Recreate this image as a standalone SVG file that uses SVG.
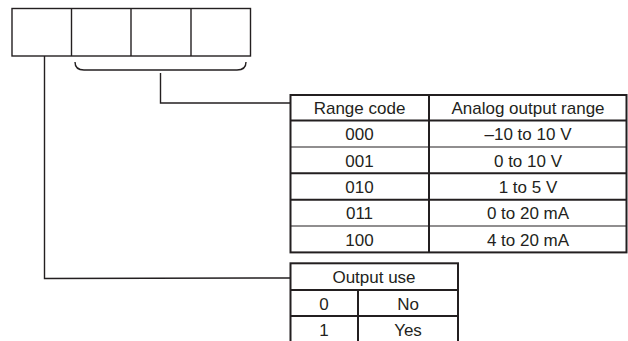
<svg xmlns="http://www.w3.org/2000/svg" width="628" height="341" viewBox="0 0 628 341">
<style>
.ln{fill:none;stroke:#231f20;stroke-width:1.4}
.thk{fill:none;stroke:#231f20;stroke-width:2}
.thn{fill:none;stroke:#231f20;stroke-width:1.1}
text{font-family:"Liberation Sans",Arial,sans-serif;font-size:17px;fill:#231f20;text-anchor:middle}
</style>
<rect width="628" height="341" fill="#fff"/>
<g id="digits">
<rect class="ln" x="12" y="8.5" width="238.5" height="47.5"/>
<line class="ln" x1="71.5" y1="8.5" x2="71.5" y2="56"/>
<line class="ln" x1="131" y1="8.5" x2="131" y2="56"/>
<line class="ln" x1="191" y1="8.5" x2="191" y2="56"/>
</g>
<g id="connectors">
<path class="ln" d="M75,62 Q75,70 84,70 L237,70 Q246,70 246,62"/>
<polyline class="ln" points="160.5,73 160.5,103 290.5,103"/>
<polyline class="ln" points="44.5,56 44.5,278.5 290.5,278"/>
</g>
<g id="range-table">
<rect class="thk" x="290.5" y="95" width="336" height="157.4"/>
<line class="thk" x1="429" y1="95" x2="429" y2="252.4"/>
<line class="thk" x1="290.5" y1="120.5" x2="626.5" y2="120.5"/>
<line class="thn" x1="290.5" y1="147" x2="626.5" y2="147"/>
<line class="thk" x1="290.5" y1="173.3" x2="626.5" y2="173.3"/>
<line class="thk" x1="290.5" y1="199.7" x2="626.5" y2="199.7"/>
<line class="thn" x1="290.5" y1="226" x2="626.5" y2="226"/>
<text x="359.5" y="114">Range code</text>
<text x="528" y="114">Analog output range</text>
<text x="359.5" y="140.3">000</text>
<text x="528" y="140.3">–10 to 10 V</text>
<text x="359.5" y="166.6">001</text>
<text x="528" y="166.6">0 to 10 V</text>
<text x="359.5" y="193">010</text>
<text x="528" y="193">1 to 5 V</text>
<text x="359.5" y="219.4">011</text>
<text x="528" y="219.4">0 to 20 mA</text>
<text x="359.5" y="245.7">100</text>
<text x="528" y="245.7">4 to 20 mA</text>
</g>
<g id="output-table">
<rect class="thk" x="290.5" y="263.3" width="167.5" height="80"/>
<line class="thk" x1="290.5" y1="290" x2="458" y2="290"/>
<line class="thk" x1="290.5" y1="316" x2="458" y2="316"/>
<line class="thk" x1="358" y1="290" x2="358" y2="343"/>
<text x="374" y="283">Output use</text>
<text x="324" y="309.5">0</text>
<text x="408" y="309.5">No</text>
<text x="324" y="335.5">1</text>
<text x="408" y="335.5">Yes</text>
</g>
</svg>
